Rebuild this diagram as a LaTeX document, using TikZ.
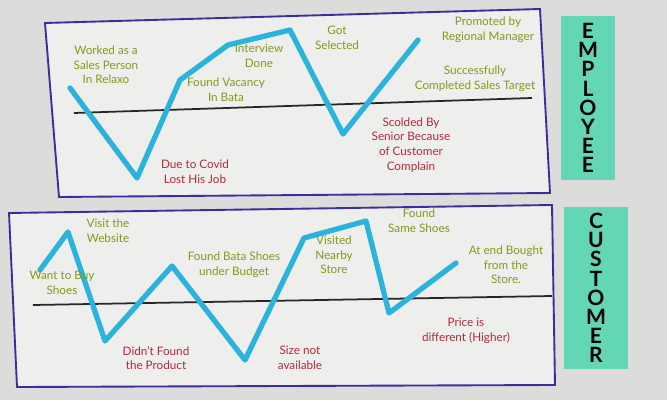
\documentclass[tikz,border=0pt]{standalone}
\usepackage{fontspec}
\setmainfont{Lato}
\usetikzlibrary{positioning}
\definecolor{paper}{HTML}{DCDCDA}
\definecolor{sheet}{HTML}{EEEEEC}
\definecolor{ink}{HTML}{3A2D9C}
\definecolor{trailc}{HTML}{2BB3DC}
\definecolor{gain}{HTML}{7E9B1E}
\definecolor{pain}{HTML}{B02A3C}
\definecolor{note}{HTML}{63D6B5}
\tikzset{
  panel/.style={draw=ink,fill=sheet,line width=1.6pt},
  axis/.style={black!85,line width=1.5pt},
  journey/.style={trailc,line width=4.5pt,line join=round,line cap=round},
  good/.style={text=gain,font=\fontsize{10}{12.5}\selectfont,align=center,inner sep=1pt},
  bad/.style={text=pain,font=\fontsize{10}{12.5}\selectfont,align=center,inner sep=1pt},
  sticky/.style={fill=note,font=\bfseries\fontsize{18}{16.4}\selectfont,align=center,inner sep=0pt,minimum width=#1},
}

\begin{document}
\begin{tikzpicture}[x=0.03cm,y=-0.03cm]
\fill[paper] (0,0) rectangle (667,400);
\useasboundingbox (0,0) rectangle (667,400);
\draw[panel] (45,23) -- (540,9) -- (550,193) -- (59,197) -- cycle;
\draw[panel] (9,213) -- (552,205) -- (555,385) -- (17,387) -- cycle;
\draw[axis] (74,113) -- (532,98);
\draw[axis] (33,305) -- (552,296);
\coordinate (e1) at (70,88);
\coordinate (e2) at (137,178);
\coordinate (e3) at (180,80);
\coordinate (e4) at (228,45);
\coordinate (e5) at (290,30);
\coordinate (e6) at (343,134);
\coordinate (e7) at (418,40);
\draw[journey] (e1) -- (e2) -- (e3) -- (e4) -- (e5) -- (e6) -- (e7);
\node[good] (relaxo) at (106,65) {Worked as a\\Sales Person\\In Relaxo};
\node[good] (vacancy) at (226,90) {Found Vacancy\\In Bata};
\node[good] (interview) at (259,56) {Interview\\Done};
\node[good] (selected) at (337,38) {Got\\Selected};
\node[good] (promoted) at (488,30) {Promoted by\\Regional Manager};
\node[good] (target) at (475,79) {Successfully\\Completed Sales Target};
\node[bad] (covid) at (195,172) {Due to Covid\\Lost His Job};
\node[bad] (scolded) at (411,145) {Scolded By\\Senior Because\\of Customer\\Complain};
\coordinate (c1) at (40,270);
\coordinate (c2) at (68,232);
\coordinate (c3) at (105,341);
\coordinate (c4) at (172,266);
\coordinate (c5) at (245,360);
\coordinate (c6) at (304,238);
\coordinate (c7) at (366,221);
\coordinate (c8) at (389,313);
\coordinate (c9) at (456,263);
\draw[journey] (c1) -- (c2) -- (c3) -- (c4) -- (c5) -- (c6) -- (c7) -- (c8) -- (c9);
\node[good] (want) at (62,283) {Want to Buy\\Shoes};
\node[good] (website) at (108,231) {Visit the\\Website};
\node[bad] (product) at (156,358) {Didn't Found\\the Product};
\node[good] (budget) at (234,265) {Found Bata Shoes\\under Budget};
\node[bad] (size) at (300,358) {Size not\\available};
\node[good] (nearby) at (334,255) {Visited\\Nearby\\Store};
\node[good] (same) at (419,221) {Found\\Same Shoes};
\node[good] (bought) at (506,265) {At end Bought\\from the\\Store.};
\node[bad] (price) at (466,331) {Price is\\different (Higher)};
\node[sticky=1.6cm,minimum height=4.9cm] (employee) at (588,98) {E\\M\\P\\L\\O\\Y\\E\\E};
\node[sticky=1.9cm,minimum height=4.85cm] (customer) at (596,288) {C\\U\\S\\T\\O\\M\\E\\R};
\end{tikzpicture}
\end{document}
